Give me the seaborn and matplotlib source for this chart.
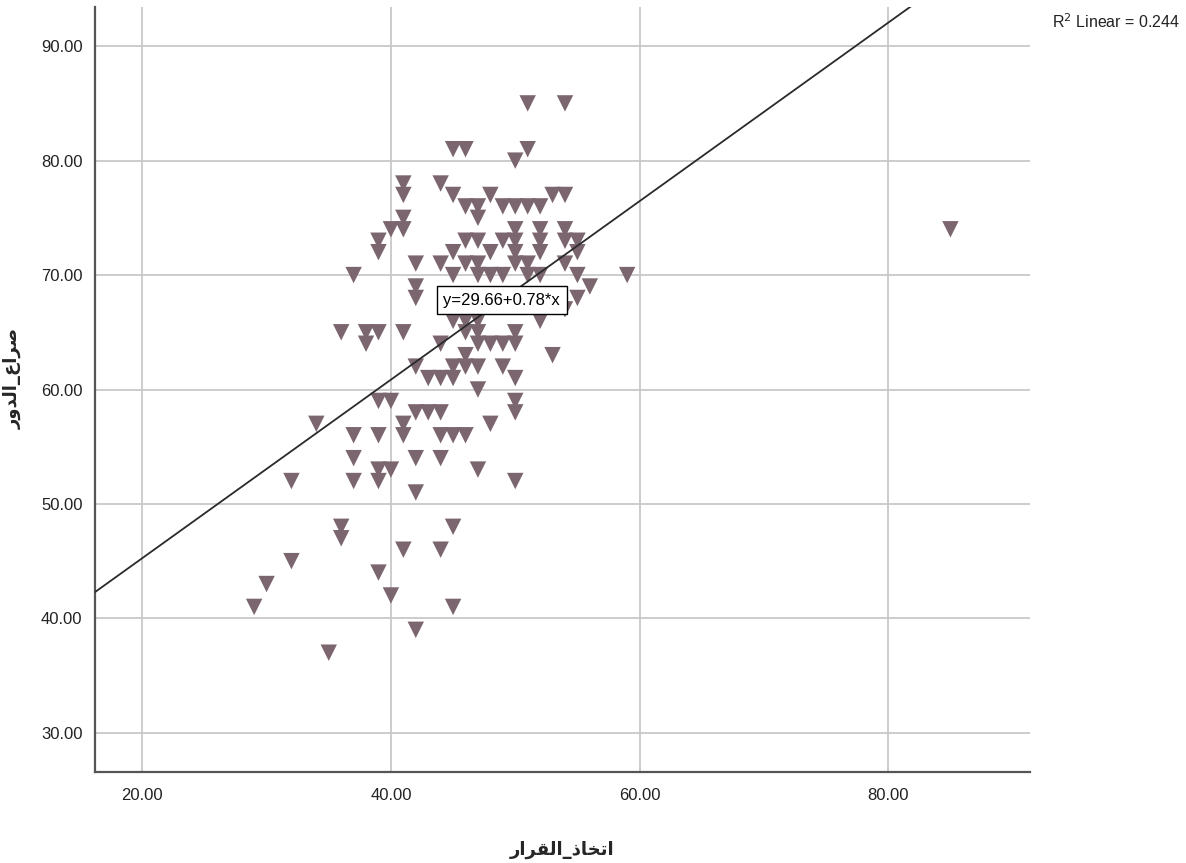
import matplotlib
matplotlib.use("Agg")
import matplotlib.pyplot as plt
import seaborn as sns
import pandas as pd
import numpy as np

# ---- data ----
decision = [29, 30, 32, 32, 34, 35, 36, 36, 36, 37, 37, 37, 37, 38, 38, 39, 39, 39, 39, 39, 39, 39, 39,
            40, 40, 40, 40,
            41, 41, 41, 41, 41, 41, 41, 41,
            42, 42, 42, 42, 42, 42, 42, 42,
            43, 43,
            44, 44, 44, 44, 44, 44, 44, 44,
            45, 45, 45, 45, 45, 45, 45, 45, 45, 45,
            46, 46, 46, 46, 46, 46, 46, 46, 46,
            47, 47, 47, 47, 47, 47, 47, 47, 47, 47, 47,
            48, 48, 48, 48, 48,
            49, 49, 49, 49, 49,
            50, 50, 50, 50, 50, 50, 50, 50, 50, 50, 50, 50,
            51, 51, 51, 51, 51,
            52, 52, 52, 52, 52, 52,
            53, 53,
            54, 54, 54, 54, 54, 54,
            55, 55, 55, 55,
            56, 59, 85]
role_conflict = [41, 43, 45, 52, 57, 37, 48, 47, 65, 70, 56, 54, 52, 65, 64, 65, 73, 72, 59, 56, 53, 52, 44,
                 74, 59, 53, 42,
                 78, 77, 75, 74, 65, 57, 56, 46,
                 71, 69, 68, 62, 58, 54, 51, 39,
                 61, 58,
                 78, 71, 64, 61, 58, 56, 54, 46,
                 81, 77, 72, 70, 66, 62, 61, 56, 48, 41,
                 81, 76, 73, 71, 66, 65, 63, 62, 56,
                 76, 75, 73, 71, 70, 66, 65, 64, 62, 60, 53,
                 77, 72, 70, 64, 57,
                 76, 73, 70, 64, 62,
                 80, 76, 74, 73, 72, 71, 65, 64, 61, 59, 58, 52,
                 85, 81, 76, 71, 70,
                 76, 74, 73, 72, 70, 66,
                 77, 63,
                 85, 77, 74, 73, 71, 67,
                 73, 72, 70, 68,
                 69, 70, 74]

intercept = 29.66
slope = 0.78
r2_value = 0.244

x_ticks = [20, 40, 60, 80]
y_ticks = [30, 40, 50, 60, 70, 80, 90]
x_label = "اتخاذ_القرار"
y_label = "صراع_الدور"

# ---- minimal Arabic shaping (presentation forms + visual order) ----
FORMS = {  # isolated, final, initial, medial
    "ا": ("\uFE8D", "\uFE8E", None, None),
    "ت": ("\uFE95", "\uFE96", "\uFE97", "\uFE98"),
    "خ": ("\uFEA5", "\uFEA6", "\uFEA7", "\uFEA8"),
    "ذ": ("\uFEAB", "\uFEAC", None, None),
    "ر": ("\uFEAD", "\uFEAE", None, None),
    "ص": ("\uFEB9", "\uFEBA", "\uFEBB", "\uFEBC"),
    "ع": ("\uFEC9", "\uFECA", "\uFECB", "\uFECC"),
    "ق": ("\uFED5", "\uFED6", "\uFED7", "\uFED8"),
    "ل": ("\uFEDD", "\uFEDE", "\uFEDF", "\uFEE0"),
    "د": ("\uFEA9", "\uFEAA", None, None),
    "و": ("\uFEED", "\uFEEE", None, None),
}


def shape_rtl(s):
    out = []
    for i, ch in enumerate(s):
        if ch not in FORMS:
            out.append(ch)
            continue
        prev = s[i - 1] if i > 0 else None
        nxt = s[i + 1] if i + 1 < len(s) else None
        joins_prev = prev in FORMS and FORMS[prev][2] is not None
        joins_next = nxt in FORMS and FORMS[ch][2] is not None
        iso, fin, ini, med = FORMS[ch]
        if joins_prev and joins_next:
            out.append(med)
        elif joins_prev:
            out.append(fin)
        elif joins_next:
            out.append(ini)
        else:
            out.append(iso)
    return "".join(reversed(out))


sns.set_style("white")
plt.rcParams["font.family"] = ["Liberation Sans", "DejaVu Sans"]

df = pd.DataFrame({"decision": decision, "role": role_conflict})

fig = plt.figure(figsize=(11.86, 8.63), dpi=100)
ax = fig.add_axes([95 / 1186, (863 - 771.7) / 863, (1030 - 95) / 1186, (771.7 - 7.3) / 863])

xlim = (16.2, 91.4)
ylim = (26.6, 93.4)

sns.scatterplot(data=df, x="decision", y="role", marker="v", s=140,
                color="#7b6670", edgecolor="none", linewidth=0, ax=ax, zorder=3)

line_x = np.array(xlim)
line_df = pd.DataFrame({"x": line_x, "y": intercept + slope * line_x})
sns.lineplot(data=line_df, x="x", y="y", color="#2a2a2a", linewidth=1.3, ax=ax, zorder=4)

label_x = 48.9
ax.text(label_x, intercept + slope * label_x, f"y={intercept:.2f}+{slope:.2f}*x",
        ha="center", va="center", fontsize=12, color="black", zorder=5,
        bbox=dict(boxstyle="square,pad=0.4", facecolor="white", edgecolor="black", linewidth=1.0))

ax.set_xlim(*xlim)
ax.set_ylim(*ylim)
ax.set_xticks(x_ticks)
ax.set_yticks(y_ticks)
ax.set_xticklabels([f"{v:.2f}" for v in x_ticks])
ax.set_yticklabels([f"{v:.2f}" for v in y_ticks])
ax.tick_params(axis="both", length=0, labelsize=12, colors="#222222")
ax.tick_params(axis="x", pad=12)
ax.tick_params(axis="y", pad=9)

ax.grid(True, color="#c8c8c8", linewidth=1.3)
ax.set_axisbelow(True)
for side in ["top", "right"]:
    ax.spines[side].set_visible(False)
for side in ["left", "bottom"]:
    ax.spines[side].set_color("#555555")
    ax.spines[side].set_linewidth(1.6)

ax.set_xlabel(shape_rtl(x_label), fontsize=13, fontweight="bold", labelpad=0,
              family=["DejaVu Sans"])
ax.set_ylabel(shape_rtl(y_label), fontsize=13, fontweight="bold", rotation=90,
              family=["DejaVu Sans"])
ax.xaxis.set_label_coords(0.5, -0.09)
ax.yaxis.set_label_coords(-0.078, 0.515)

fig.text(1180 / 1186, 1 - 22 / 863, r"R$^2$ Linear = " + f"{r2_value:.3f}",
         ha="right", va="center", fontsize=11.5, color="#222222")

fig.savefig("out.png", dpi=100)
